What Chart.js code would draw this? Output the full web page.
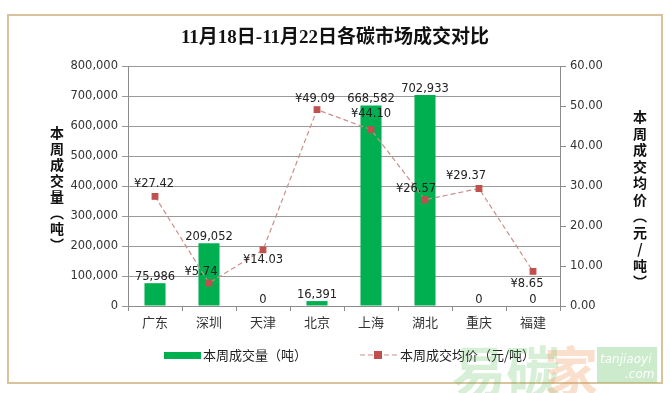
<!DOCTYPE html>
<html>
<head>
<meta charset="utf-8">
<script src="https://cdn.jsdelivr.net/npm/chart.js@4/dist/chart.umd.min.js"></script>
<style>
  html, body { margin: 0; padding: 0; background: #fff; }
  #c { display: block; }
</style>
</head>
<body>
<canvas id="c" width="671" height="393"></canvas>
<script>
const cities = ['广东', '深圳', '天津', '北京', '上海', '湖北', '重庆', '福建'];
const volumes = [75986, 209052, 0, 16391, 668582, 702933, 0, 0];
const prices = [27.42, 5.74, 14.03, 49.09, 44.10, 26.57, 29.37, 8.65];
const volumeTicks = [0, 100000, 200000, 300000, 400000, 500000, 600000, 700000, 800000];
const priceTicks = [0, 10, 20, 30, 40, 50, 60];

const TITLE = '11月18日-11月22日各碳市场成交对比';
const VOL_LABEL = '本周成交量（吨）';
const PRICE_LABEL = '本周成交均价（元/吨）';

const GREEN = '#00B050';
const RED = '#C0504D';
const CJK = '"Noto Sans CJK SC", sans-serif';
const NUM = '"DejaVu Sans", sans-serif';

// where each price label sits relative to its point
const priceLabelShift = [[-1,-12],[-8,-11],[0,10],[-2,-11],[0,-16],[-9,-11],[-13,-13],[-6,13]];

function fmt(v) { return v.toLocaleString('en-US'); }

function verticalText(ctx, chars, x, y, step)
{
    for (let i = 0; i < chars.length; i++)
        ctx.fillText(chars[i], x, y + i*step);
}

const decor = {
    id: 'decor',
    beforeDraw(chart) {
        const ctx = chart.ctx;
        ctx.save();
        ctx.strokeStyle = '#D8C39B';
        ctx.lineWidth = 2;
        ctx.strokeRect(8, 15, 654, 368);
        ctx.restore();
    },
    afterDraw(chart) {
        const ctx = chart.ctx;
        ctx.save();

        // title
        ctx.fillStyle = '#111';
        ctx.font = 'bold 19px "Liberation Serif", ' + CJK;
        ctx.textAlign = 'center';
        ctx.textBaseline = 'middle';
        ctx.fillText(TITLE, 335, 38);

        // axis titles, stacked
        ctx.font = 'bold 14px ' + CJK;
        ctx.fillStyle = '#111';
        verticalText(ctx, ['本','周','成','交','量','︵','吨','︶'], 57, 133, 16);
        verticalText(ctx, ['本','周','成','交','均','价','︵','元','/','吨','︶'], 640, 117, 16.5);

        // data labels
        ctx.font = '11.5px ' + NUM;
        ctx.fillStyle = '#222';
        ctx.textAlign = 'center';
        ctx.textBaseline = 'middle';
        const bars = chart.getDatasetMeta(1).data;
        bars.forEach((b, i) => {
            ctx.fillText(fmt(volumes[i]), b.x, b.y - 6);
        });
        const pts = chart.getDatasetMeta(0).data;
        pts.forEach((p, i) => {
            const s = priceLabelShift[i];
            ctx.fillText('¥' + prices[i].toFixed(2), p.x + s[0], p.y + s[1]);
        });

        // legend
        ctx.fillStyle = GREEN;
        ctx.fillRect(164, 352, 37, 7);
        ctx.font = '13px ' + CJK;
        ctx.fillStyle = '#222';
        ctx.textAlign = 'left';
        ctx.fillText(VOL_LABEL, 203, 355);
        ctx.strokeStyle = '#C8918E';
        ctx.lineWidth = 1;
        ctx.setLineDash([5, 3]);
        ctx.beginPath();
        ctx.moveTo(360, 355);
        ctx.lineTo(398, 355);
        ctx.stroke();
        ctx.setLineDash([]);
        ctx.fillStyle = RED;
        ctx.fillRect(374, 351, 8, 8);
        ctx.fillStyle = '#222';
        ctx.fillText(PRICE_LABEL, 400, 355);

        // watermark
        ctx.font = 'bold 54px ' + CJK;
        ctx.textBaseline = 'alphabetic';
        ctx.fillStyle = 'rgba(90,190,90,0.25)';
        ctx.fillText('易碳', 452, 392);
        ctx.fillStyle = 'rgba(240,150,90,0.3)';
        ctx.fillText('家', 544, 392);
        ctx.fillStyle = 'rgba(110,195,110,0.35)';
        ctx.fillRect(597, 347, 60, 36);
        ctx.fillStyle = 'rgba(255,255,255,0.95)';
        ctx.font = 'italic 12px ' + NUM;
        ctx.fillText('tanjiaoyi', 600, 363);
        ctx.fillText('.com', 625, 378);

        ctx.restore();
    }
};

new Chart(document.getElementById('c'), {
    data: {
        labels: cities,
        datasets: [
            {
                type: 'line',
                label: PRICE_LABEL,
                data: prices,
                yAxisID: 'y1',
                borderColor: '#C8918E',
                borderWidth: 1.2,
                borderDash: [5, 3],
                pointStyle: 'rect',
                pointRadius: 4,
                pointBackgroundColor: RED,
                pointBorderColor: RED,
                order: 0
            },
            {
                type: 'bar',
                label: VOL_LABEL,
                data: volumes,
                yAxisID: 'y',
                backgroundColor: GREEN,
                categoryPercentage: 1,
                barPercentage: 0.39,
                order: 1
            }
        ]
    },
    options: {
        responsive: false,
        animation: false,
        layout: { padding: { top: 66, bottom: 57, left: 0, right: 0 } },
        plugins: {
            legend: { display: false },
            title: { display: false },
            tooltip: { enabled: false }
        },
        scales: {
            x: {
                grid: { drawOnChartArea: false, drawTicks: true, tickLength: 5, color: '#8c8c8c', offset: true },
                border: { color: '#8c8c8c' },
                ticks: { color: '#333', font: { family: CJK, size: 13 }, padding: 3 },
                afterFit: s => { s.height = 30; }
            },
            y: {
                position: 'left',
                min: 0,
                max: 800000,
                afterBuildTicks: s => { s.ticks = volumeTicks.map(v => ({ value: v })); },
                ticks: { color: '#333', font: { family: NUM, size: 11.5 }, padding: 4, callback: v => fmt(v) },
                grid: { color: '#9a9a9a', tickLength: 6 },
                border: { color: '#8c8c8c' },
                afterFit: s => { s.width = 128; }
            },
            y1: {
                position: 'right',
                min: 0,
                max: 60,
                afterBuildTicks: s => { s.ticks = priceTicks.map(v => ({ value: v })); },
                ticks: { color: '#333', font: { family: NUM, size: 11.5 }, padding: 4, callback: v => v.toFixed(2) },
                grid: { drawOnChartArea: false, color: '#8c8c8c', tickLength: 6 },
                border: { color: '#8c8c8c' },
                afterFit: s => { s.width = 111; }
            }
        }
    },
    plugins: [decor]
});
</script>
</body>
</html>
